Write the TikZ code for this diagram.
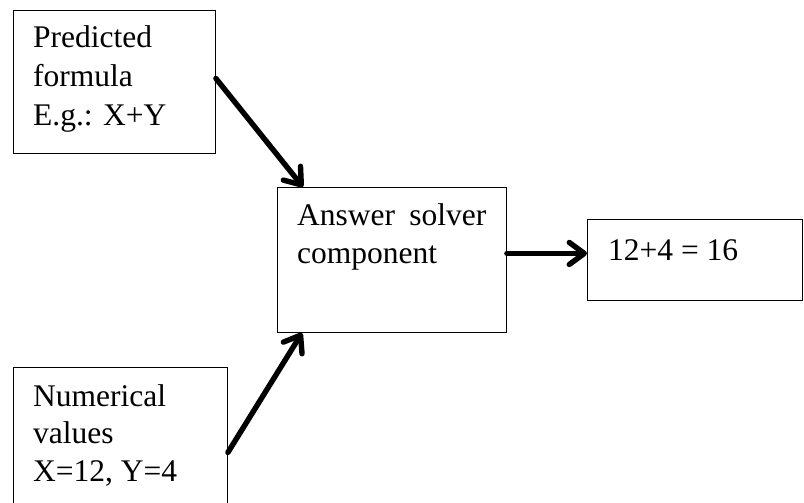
\documentclass[tikz,border=0pt]{standalone}
\usepackage{fontspec}
\setmainfont{Liberation Serif}
\usetikzlibrary{arrows.meta}
\begin{document}
\begin{tikzpicture}[x=1pt,y=-1pt,
  box/.style={draw,line width=0.9pt,rectangle,inner sep=0pt,anchor=north west},
  txt/.style={inner sep=0pt,anchor=base west,font=\fontsize{31.5}{38}\selectfont},
  conn/.style={line width=5.4pt,line cap=round,
    -{Straight Barb[length=15pt,width=22pt,line cap=round,line join=round]}}]
\clip (0,0) rectangle (804,503);
% boxes
\node[box,minimum width=202pt,minimum height=143pt] (b1) at (13,10) {};
\node[box,minimum width=229pt,minimum height=145pt] (b2) at (277,187) {};
\node[box,minimum width=215pt,minimum height=81pt] (b3) at (587,219) {};
\node[box,minimum width=214pt,minimum height=150pt] (b4) at (13,367) {};
% texts
\node[txt] (t1a) at (33,48) {Predicted};
\node[txt] (t1b) at (33,87) {formula};
\node[txt] (t1c) at (33,125) {E.g.: X+Y};
\node[txt] (t2a) at (297,225) {Answer\hspace{0.45em}solver};
\node[txt] (t2b) at (297,263) {component};
\node[txt] (t3a) at (608,260) {12+4 = 16};
\node[txt] (t4a) at (33,406) {Numerical};
\node[txt] (t4b) at (33,443) {values};
\node[txt] (t4c) at (33,481) {X=12, Y=4};
% connectors
\draw[conn] ([yshift=3.5pt]b1.east) -- ([xshift=26pt]b2.north west);
\draw[conn] ([yshift=-10pt]b4.east) -- ([xshift=25pt]b2.south west);
\draw[conn] ([yshift=6.5pt]b2.east) -- ([yshift=6.5pt]b3.west);
\end{tikzpicture}
\end{document}
